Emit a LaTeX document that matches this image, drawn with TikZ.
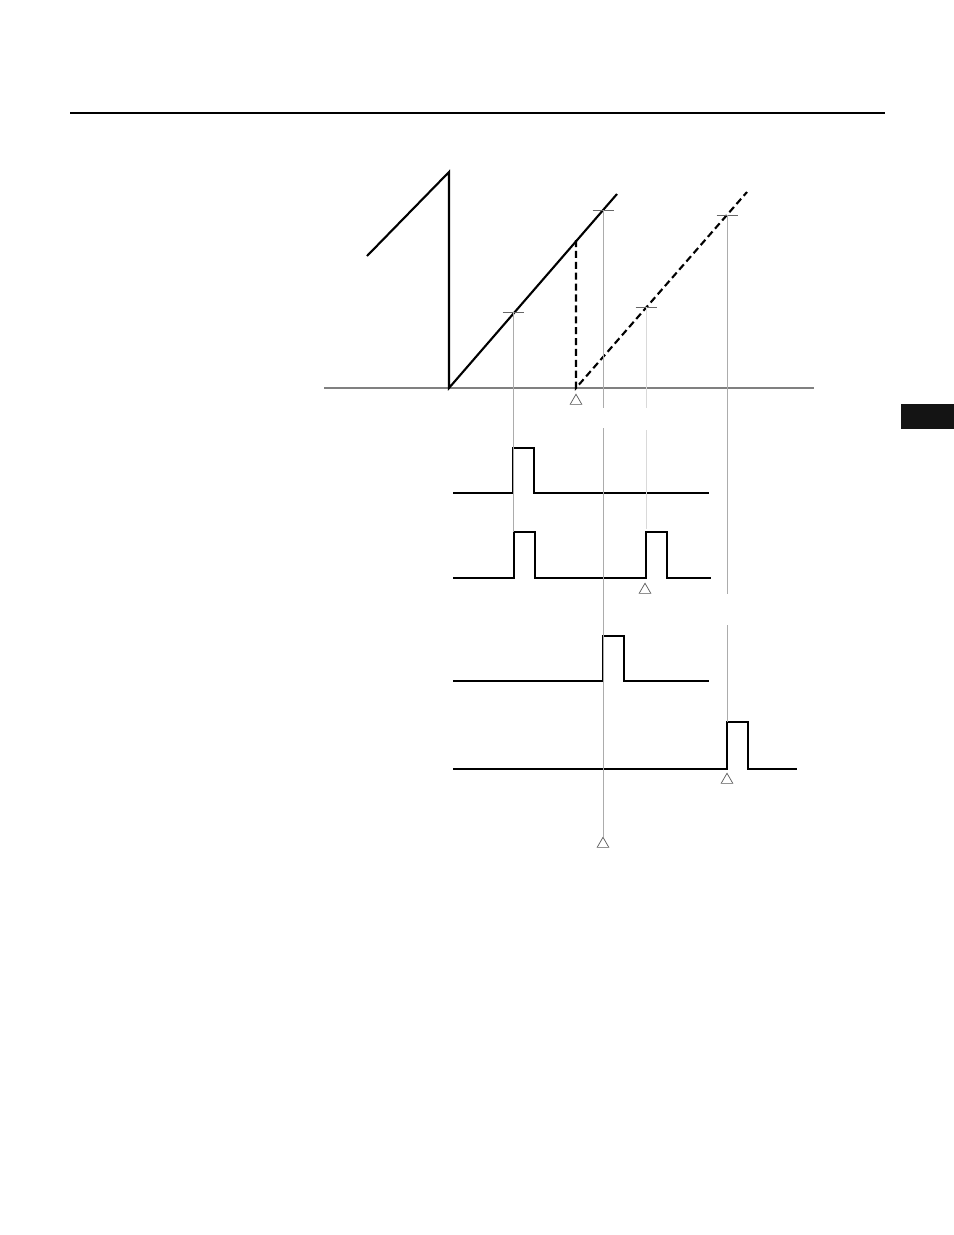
\documentclass[tikz,border=0pt]{standalone}
\usepackage{tikz}
\usetikzlibrary{shapes.geometric}

\begin{document}
\begin{tikzpicture}[x=0.02cm, y=-0.02cm,
  guide/.style={gray!65, line width=0.5pt},
  faint/.style={gray!30, line width=0.5pt},
  wave/.style={line width=1.4pt},
  thinwave/.style={line width=0.8pt},
  saw/.style={line width=1.2pt},
  tick/.style={gray!80!black, line width=0.5pt},
  trig/.style={draw, gray!70!black, line width=0.4pt, regular polygon, regular polygon sides=3, minimum size=0.27cm, inner sep=0pt}]
\useasboundingbox (0,0) rectangle (954,1235);

% page rule and tab
\draw[line width=1.1pt] (70,113) -- (885,113);
\fill[black!92] (901,404) rectangle (954,429);

% time axis
\draw[gray, line width=0.6pt] (324,388) -- (814,388);

% sawtooth
\draw[saw] (367,256) -- (449,172) -- (449,388) -- (617,194);
\draw[saw, dash pattern=on 4pt off 2.2pt] (576,240) -- (576,388) -- (747,192);

% ticks on the ramps
\coordinate (ta) at (513,312);
\coordinate (tb) at (603,210);
\coordinate (tc) at (646,307);
\coordinate (td) at (727,215);
\foreach \t in {ta,tb,tc,td}
  \draw[tick] ([xshift=-10.5*0.02cm]\t) -- ([xshift=10.5*0.02cm]\t);

% markers
\node[trig] (m0) at (576,401) {};
\node[trig] (m1) at (645,590) {};
\node[trig] (m2) at (727,780) {};
\node[trig] (m3) at (603,844) {};

% pulse trains
\draw[thinwave] (453,493) -- (513,493) -- (513,448) -- (534,448) -- (534,493) -- (709,493);
\draw[wave] (453,578) -- (514,578) -- (514,532) -- (535,532) -- (535,578)
  -- (646,578) -- (646,532) -- (667,532) -- (667,578) -- (711,578);
\draw[wave] (453,681) -- (603,681) -- (603,636) -- (624,636) -- (624,681) -- (709,681);
\draw[wave] (453,769) -- (727,769) -- (727,722) -- (748,722) -- (748,769) -- (797,769);

% guide lines
\draw[guide] (ta) -- (513,532);
\draw[guide] (tb) -- (603,408);
\draw[guide] (603,428) -- (m3.north);
\draw[faint] (tc) -- (646,408);
\draw[faint] (646,430) -- (646,529);
\draw[guide] (td) -- (727,594);
\draw[guide] (727,625) -- (727,722);
\end{tikzpicture}
\end{document}
